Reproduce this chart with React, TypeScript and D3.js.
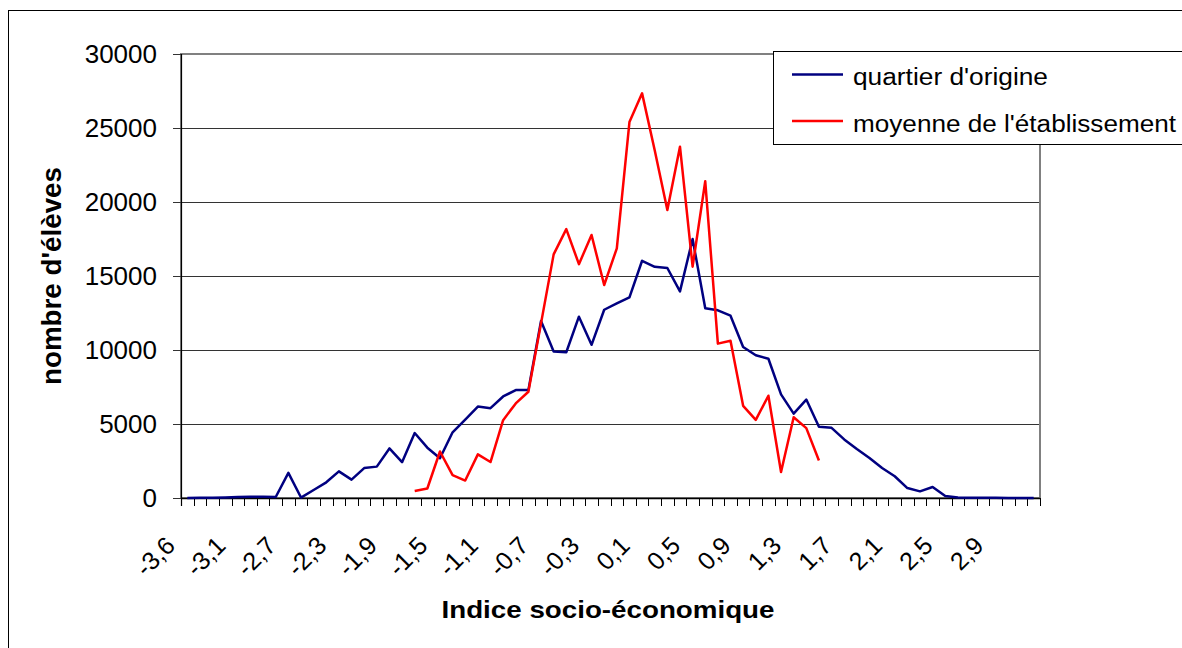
import React from "react";
import * as d3 from "d3";

// catégories de l'indice socio-économique (axe X)
const categories = [
  -3.6, -3.4, -3.3, -3.2, -3.1, -3.0, -2.9, -2.8, -2.7, -2.6, -2.5, -2.4, -2.3, -2.2, -2.1, -2.0,
  -1.9, -1.8, -1.7, -1.6, -1.5, -1.4, -1.3, -1.2, -1.1, -1.0, -0.9, -0.8, -0.7, -0.6, -0.5, -0.4,
  -0.3, -0.2, -0.1, 0.0, 0.1, 0.2, 0.3, 0.4, 0.5, 0.6, 0.7, 0.8, 0.9, 1.0, 1.1, 1.2,
  1.3, 1.4, 1.5, 1.6, 1.7, 1.8, 1.9, 2.0, 2.1, 2.2, 2.3, 2.4, 2.5, 2.6, 2.7, 2.8,
  2.9, 3.0, 3.1, 3.2,
];

// quartier d'origine
const quartier = [
  0, 10, 20, 40, 60, 80, 90, 70, 1700, 30, 540, 1060, 1800, 1240, 2020, 2120,
  3350, 2420, 4390, 3400, 2690, 4440, 5300, 6180, 6070, 6860, 7290, 7290, 11960, 9900, 9850, 12250,
  10350, 12720, 13150, 13560, 16030, 15620, 15540, 13960, 17500, 12820, 12680, 12320, 10200, 9640, 9410, 7000,
  5700, 6650, 4820, 4740, 3960, 3310, 2700, 2030, 1470, 670, 450, 740, 130, 40, 20, 15,
  10, 5, 3, 0,
];

// moyenne de l'établissement (null = pas de valeur)
const etablissement: (number | null)[] = [
  null, null, null, null, null, null, null, null, null, null, null, null, null, null, null, null,
  null, null, 470, 640, 3140, 1540, 1180, 2950, 2430, 5260, 6390, 7180, 11800, 16460, 18170, 15800,
  17770, 14390, 16870, 25400, 27340, 23500, 19460, 23740, 15630, 21400, 10430, 10630, 6230, 5280, 6910, 1760,
  5460, 4720, 2530, null, null, null, null, null, null, null, null, null, null, null, null, null,
  null, null, null, null,
];

const yTicks = [0, 5000, 10000, 15000, 20000, 25000, 30000];

const FONT = "'Liberation Sans', Arial, sans-serif";

export default function App() {
  const left = 181;
  const right = 1040;
  const top = 54;
  const bottom = 498;

  const x = d3
    .scaleBand<number>()
    .domain(d3.range(categories.length))
    .range([left, right])
    .padding(0);
  const cx = (i: number) => (x(i) as number) + x.bandwidth() / 2;

  const y = d3.scaleLinear().domain([0, 30000]).range([bottom, top]);

  const line = d3
    .line<number | null>()
    .defined((d) => d !== null)
    .x((_, i) => cx(i))
    .y((d) => y(d as number));

  const fmt = (v: number) => v.toFixed(1).replace(".", ",").replace("-0,0", "0,0");

  const boundaries = d3.range(categories.length + 1).map((i) =>
    i < categories.length ? (x(i) as number) : right
  );

  return (
    <svg
      width={1182}
      height={648}
      style={{ position: "absolute", left: 0, top: 0, display: "block", background: "#fff" }}
      fontFamily={FONT}
    >
      <rect x={8.5} y={10.5} width={1200} height={660} fill="#fff" stroke="#000" strokeWidth={1} />

      {/* grille */}
      {yTicks.map((t) => (
        <line key={"g" + t} x1={left} x2={right} y1={Math.round(y(t)) + 0.5} y2={Math.round(y(t)) + 0.5} stroke="#333" strokeWidth={1} />
      ))}
      <rect x={left} y={top} width={right - left} height={bottom - top} fill="none" stroke="#808080" strokeWidth={2} />

      {/* axe Y */}
      <line x1={left + 0.5} x2={left + 0.5} y1={top} y2={bottom + 8} stroke="#000" strokeWidth={1.2} />
      {yTicks.map((t) => (
        <g key={"y" + t}>
          <line x1={173} x2={left} y1={Math.round(y(t)) + 0.5} y2={Math.round(y(t)) + 0.5} stroke="#333" />
          <text x={157} y={y(t)} dy="0.35em" textAnchor="end" fontSize={26} fill="#000">
            {t}
          </text>
        </g>
      ))}

      {/* axe X */}
      <line x1={left} x2={right} y1={bottom + 0.5} y2={bottom + 0.5} stroke="#000" strokeWidth={1.5} />
      {boundaries.map((bx, i) => (
        <line key={"t" + i} x1={Math.round(bx) + 0.5} x2={Math.round(bx) + 0.5} y1={bottom} y2={bottom + 8} stroke="#000" strokeWidth={1} />
      ))}
      {categories.map((c, i) =>
        i % 4 === 0 ? (
          <text
            key={"l" + i}
            transform={`translate(${cx(i) - 17},${541}) rotate(-45)`}
            textAnchor="end"
            dy="0.35em"
            fontSize={25}
            fill="#000"
          >
            {fmt(c)}
          </text>
        ) : null
      )}

      {/* séries */}
      <path d={line(quartier) || ""} fill="none" stroke="#000080" strokeWidth={2.5} strokeLinejoin="round" />
      <path d={line(etablissement) || ""} fill="none" stroke="#ff0000" strokeWidth={2.5} strokeLinejoin="round" />

      {/* titres */}
      <text x={608} y={618} textAnchor="middle" fontSize={24} fontWeight="bold" textLength={333} lengthAdjust="spacingAndGlyphs">
        Indice socio-économique
      </text>
      <text transform="translate(61,276) rotate(-90)" textAnchor="middle" fontSize={27} fontWeight="bold" textLength={218} lengthAdjust="spacingAndGlyphs">
        nombre d'élèves
      </text>

      {/* légende */}
      <rect x={773.5} y={51.5} width={420} height={93} fill="#fff" stroke="#000" strokeWidth={1} />
      <line x1={792} x2={843} y1={74.5} y2={74.5} stroke="#000080" strokeWidth={2.5} />
      <text x={853} y={85} fontSize={23} textLength={195} lengthAdjust="spacingAndGlyphs">
        quartier d'origine
      </text>
      <line x1={792} x2={843} y1={121} y2={121} stroke="#ff0000" strokeWidth={2.5} />
      <text x={853} y={132} fontSize={23} textLength={323} lengthAdjust="spacingAndGlyphs">
        moyenne de l'établissement
      </text>
    </svg>
  );
}
